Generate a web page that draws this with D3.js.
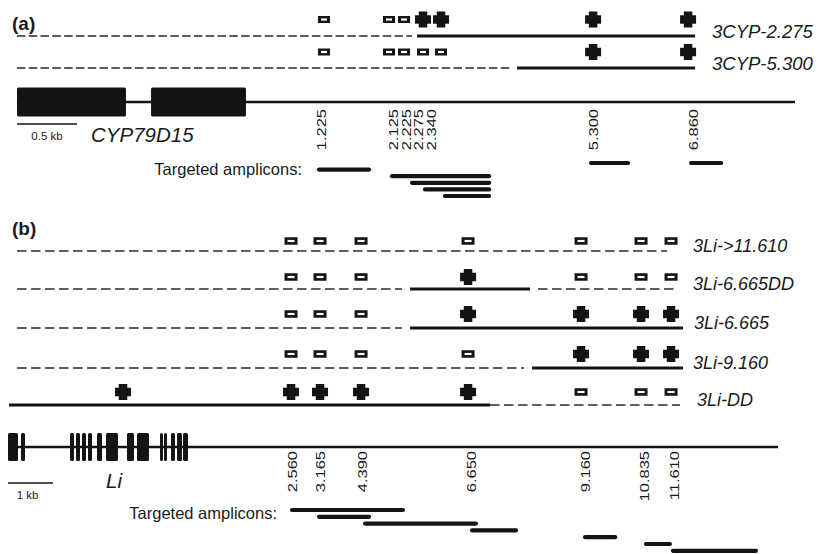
<!DOCTYPE html>
<html><head><meta charset="utf-8">
<script src="https://cdn.jsdelivr.net/npm/d3@7"></script>
<style>
body{margin:0;background:#fff}
svg{display:block}
text{font-family:Arial,"Liberation Sans",Helvetica,sans-serif;fill:#1a1a1a}
</style>
</head><body><svg id="c" width="828" height="554"></svg>
<script>
// ---------------- Panel (a) data (kb downstream of CYP79D15) ----------------
const sitesA    = ["1.225","2.125","2.225","2.275","2.340","5.300","6.860"];
const markerKbA = [1.215, 2.215, 2.446, 2.738, 3.015, 5.354, 6.815];   // plotted (spread) positions
const labelKbA  = [1.169, 2.277, 2.477, 2.662, 2.862, 5.354, 6.892];
const linesA    = ["3CYP-2.275","3CYP-5.300"];
const statesA   = [[-1,-1,-1,1,1,1,1],[-1,-1,-1,-1,-1,1,1]];   // 1 = amplified (+), -1 = not (−)
const dashedA   = [[[-3.508, 2.569]], [[-3.508, 4.077]]];
const solidA    = [[[2.646, 6.923]], [[4.185, 6.923]]];
const geneLineA = [-3.508, 8.46];
const exonsA    = [[0, 0.908],[1.117, 1.908]];                 // kb along gene model
const scaleBarA = 0.5;
const ampA      = [[5.292,5.923],[6.831,7.354],[1.108,1.938],[2.231,3.785],[2.538,3.785],[2.738,3.785],[3.046,3.785]];
const ampLaneA  = [0,0,1,2,3,4,5];

// ---------------- Panel (b) data (kb downstream of Li) ----------------
const sitesB    = ["","2.560","3.165","4.390","6.650","9.160","10.835","11.610"];
const markerKbB = [-1.443, 2.537, 3.224, 4.196, 6.731, 9.408, 10.829, 11.540];
const labelKbB  = [null, 2.561, 3.224, 4.220, 6.802, 9.503, 10.900, 11.611];
const linesB    = ["3Li->11.610","3Li-6.665DD","3Li-6.665","3Li-9.160","3Li-DD"];
const statesB   = [
  [0,-1,-1,-1,-1,-1,-1,-1],
  [0,-1,-1,-1, 1,-1,-1,-1],
  [0,-1,-1,-1, 1, 1, 1, 1],
  [0,-1,-1,-1,-1, 1, 1, 1],
  [1, 1, 1, 1, 1,-1,-1,-1]
];
const dashedB = [
  [[-3.954, 11.445]],
  [[-3.954, 5.167],[8.389, 11.658]],
  [[-3.954, 5.167]],
  [[-3.954, 8.057]],
  [[7.252, 11.75]]
];
const solidB = [
  [],
  [[5.357, 8.2]],
  [[5.357, 11.824]],
  [[8.247, 11.824]],
  [[-4.144, 7.252]]
];
const geneLineB = [-4.167, 14.075];
const exonsB = [[0,0.222],[0.289,0.378],[1.378,1.467],[1.511,1.6],[1.644,1.733],[1.778,1.867],
  [1.978,2.089],[2.178,2.444],[2.644,2.8],[2.867,3.133],[3.378,3.444],[3.467,3.533],
  [3.622,3.711],[3.756,3.867],[3.889,4.0]];
const scaleBarB = 1;
const ampB     = [[2.514,5.236],[3.153,4.432],[4.243,6.965],[6.778,7.915],[9.457,10.263],[10.899,11.562],[11.538,13.6]];
const ampLaneB = [0,1,2,3,4,5,6];

// ---------------- drawing ----------------
const svg = d3.select("#c");
const INK = "#141414";

function crossPath(cx, cy, s, t) {
  const h = s/2, a = t/2;
  return `M${cx-a},${cy-h}H${cx+a}V${cy-a}H${cx+h}V${cy+a}H${cx+a}V${cy+h}H${cx-a}V${cy+a}H${cx-h}V${cy-a}H${cx-a}Z`;
}

function drawPanel(cfg) {
  const g = svg.append("g");
  const x = cfg.x, gx = cfg.gx;

  g.append("text").attr("x", cfg.letterX).attr("y", cfg.letterY)
    .attr("font-size", 19).attr("font-weight", "bold").text(cfg.letter);

  cfg.names.forEach((name, i) => {
    const ly = cfg.lineY[i], my = cfg.markY[i];
    cfg.dashed[i].forEach(s => {
      g.append("line").attr("x1", x(s[0])).attr("x2", x(s[1])).attr("y1", ly).attr("y2", ly)
        .attr("stroke", "#2a2a2a").attr("stroke-width", 1.6).attr("stroke-dasharray", cfg.dash);
    });
    cfg.solid[i].forEach(s => {
      g.append("line").attr("x1", x(s[0])).attr("x2", x(s[1])).attr("y1", ly).attr("y2", ly)
        .attr("stroke", INK).attr("stroke-width", 2.8);
    });
    cfg.states[i].forEach((st, j) => {
      const cx = x(cfg.markKb[j]);
      if (st === 1) {
        g.append("path").attr("d", crossPath(cx, my, cfg.crossS, cfg.crossT)).attr("fill", INK);
      } else if (st === -1) {
        g.append("rect").attr("x", cx - cfg.sqW/2).attr("y", my - cfg.sqH/2)
          .attr("width", cfg.sqW).attr("height", cfg.sqH).attr("fill", INK);
        g.append("rect").attr("x", cx - cfg.sqW/2 + 3).attr("y", my - 1.1)
          .attr("width", cfg.sqW - 6).attr("height", 2.2).attr("fill", "#fff");
      }
    });
    g.append("text").attr("x", cfg.nameX[i]).attr("y", ly + cfg.nameDy)
      .attr("font-size", cfg.nameSize).attr("font-style", "italic").text(name);
  });

  g.append("line").attr("x1", x(cfg.geneLine[0])).attr("x2", x(cfg.geneLine[1]))
    .attr("y1", cfg.geneY).attr("y2", cfg.geneY).attr("stroke", INK).attr("stroke-width", 2.4);
  g.selectAll(null).data(cfg.exons).enter().append("rect")
    .attr("x", d => gx(d[0])).attr("width", d => gx(d[1]) - gx(d[0]))
    .attr("y", cfg.geneY - cfg.exonH/2).attr("height", cfg.exonH)
    .attr("rx", 1.5).attr("fill", INK);

  g.append("line").attr("x1", gx(0)).attr("x2", gx(cfg.bar)).attr("y1", cfg.barY).attr("y2", cfg.barY)
    .attr("stroke", INK).attr("stroke-width", 1.6);
  g.append("text").attr("x", (gx(0) + gx(cfg.bar))/2 + cfg.barTextDx).attr("y", cfg.barY + 16)
    .attr("text-anchor", "middle").attr("font-size", 11.5).text(cfg.barText);
  g.append("text").attr("x", cfg.geneNameX).attr("y", cfg.geneNameY)
    .attr("font-size", cfg.geneNameSize).attr("font-style", "italic").text(cfg.geneName);

  cfg.sites.forEach((s, j) => {
    if (!s) return;
    g.append("text")
      .attr("transform", `translate(${x(cfg.labelKb[j])},${cfg.labelTop}) rotate(-90) scale(1,0.8)`)
      .attr("text-anchor", "end").attr("dy", "0.35em").attr("font-size", 16.5).text(s);
  });

  g.append("text").attr("x", cfg.ampTextX).attr("y", cfg.ampTextY).attr("dy", "0.35em")
    .attr("text-anchor", "end").attr("font-size", 16.5).text("Targeted amplicons:");
  cfg.amps.forEach((a, k) => {
    const y = cfg.ampY0 + cfg.lanes[k] * cfg.laneH;
    g.append("line").attr("x1", x(a[0]) + 2).attr("x2", x(a[1]) - 2).attr("y1", y).attr("y2", y)
      .attr("stroke", INK).attr("stroke-width", 4.2).attr("stroke-linecap", "round");
  });
}

drawPanel({
  letter: "(a)", letterX: 12, letterY: 30,
  x: d3.scaleLinear().domain([0, 6.86]).range([245, 691]),
  gx: d3.scaleLinear().domain([0, 1]).range([17, 137]),
  names: linesA, states: statesA, dashed: dashedA, solid: solidA,
  lineY: [36, 68], markY: [19.5, 52], dash: "8.5,3.3",
  markKb: markerKbA, crossS: 16, crossT: 8.5, sqW: 12, sqH: 7,
  nameX: [712, 712], nameDy: 1.5, nameSize: 18.5,
  geneLine: geneLineA, geneY: 102, exons: exonsA, exonH: 29,
  bar: scaleBarA, barY: 124, barTextDx: 0, barText: "0.5 kb",
  geneName: "CYP79D15", geneNameX: 91, geneNameY: 142, geneNameSize: 20.5,
  sites: sitesA, labelKb: labelKbA, labelTop: 109,
  ampTextX: 302, ampTextY: 169, amps: ampA, lanes: ampLaneA, ampY0: 163, laneH: 6.6
});

drawPanel({
  letter: "(b)", letterX: 12, letterY: 235,
  x: d3.scaleLinear().domain([2.56, 11.61]).range([292, 674]),
  gx: d3.scaleLinear().domain([0, 1]).range([8, 53]),
  names: linesB, states: statesB, dashed: dashedB, solid: solidB,
  lineY: [251, 289, 328, 368, 405], markY: [241, 277, 314, 354, 392], dash: "9.5,4.5",
  markKb: markerKbB, crossS: 16, crossT: 8.5, sqW: 13, sqH: 7.5,
  nameX: [693, 693, 694, 693, 697], nameDy: 0.5, nameSize: 18,
  geneLine: geneLineB, geneY: 447, exons: exonsB, exonH: 28,
  bar: scaleBarB, barY: 483, barTextDx: -3, barText: "1 kb",
  geneName: "Li", geneNameX: 106, geneNameY: 488, geneNameSize: 20.5,
  sites: sitesB, labelKb: labelKbB, labelTop: 451,
  ampTextX: 277, ampTextY: 513, amps: ampB, lanes: ampLaneB, ampY0: 510, laneH: 6.8
});
</script>
</body></html>
